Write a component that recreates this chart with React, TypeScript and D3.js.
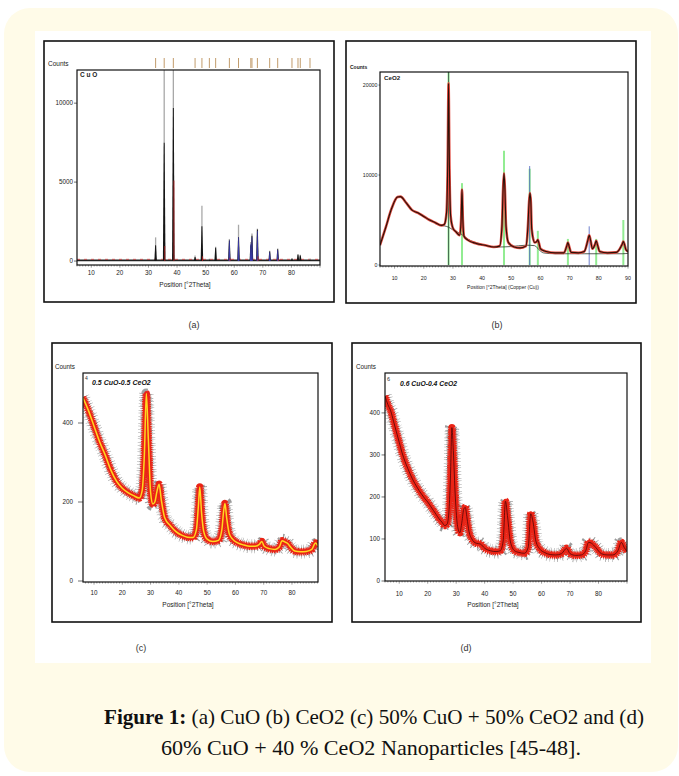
import React from "react";
import * as d3 from "d3";

type Pt = [number, number];

// ---- (a) CuO ----
const cuoPeakPos = [32.5, 35.5, 38.7, 46.3, 48.7, 51.3, 53.5, 58.3, 61.5, 65.8, 66.2, 68.1, 72.4, 75.2, 80.2, 82.3, 83.1, 86.5];
const cuoObserved = [1500, 12100, 12100, 350, 3500, 150, 900, 1400, 2300, 1200, 1750, 2050, 650, 800, 200, 450, 400, 150];
const cuoFitted = [1000, 7500, 9700, 250, 2200, 100, 850, 1300, 1500, 1000, 1600, 2000, 600, 750, 150, 400, 350, 100];
const cuoBlue = [0, 0, 0, 0, 0, 0, 0, 1300, 1500, 1100, 1500, 1900, 550, 700, 0, 0, 0, 0];
const cuoRed = [0, 950, 5100, 0, 300, 0, 0, 200, 0, 0, 0, 300, 0, 150, 0, 0, 0, 0];

// ---- (b) CeO2 ----
const ceo2Profile: Pt[] = [
  [5, 2200], [7, 4200], [9, 6300], [11, 7550], [12, 7600], [14, 6900], [16, 6100], [18, 5800],
  [20, 5400], [22, 5000], [24, 4700], [26, 4400], [27, 4500], [27.8, 5800], [28.2, 11000],
  [28.5, 20200], [28.8, 11000], [29.2, 5500], [30, 4100], [31, 3700], [32.3, 3300], [32.8, 5000],
  [33.1, 8400], [33.4, 5000], [33.8, 3200], [35, 2800], [38, 2400], [41, 2200], [44, 2000],
  [46, 2100], [46.8, 4300], [47.2, 8500], [47.5, 10200], [47.8, 8500], [48.2, 4300], [49, 2500],
  [51, 2000], [53, 1900], [55, 2100], [55.7, 4300], [56.1, 7000], [56.4, 8000], [56.7, 7000],
  [57, 4000], [58, 2500], [58.7, 2600], [59.1, 2800], [59.5, 2400], [60, 1800], [62, 1500],
  [65, 1350], [68, 1350], [69, 2100], [69.4, 2500], [69.8, 2100], [70.5, 1400], [73, 1350],
  [75, 1500], [76.2, 2700], [76.7, 3300], [77.2, 2700], [77.8, 1800], [78.7, 2300], [79.1, 2700],
  [79.5, 2300], [80.3, 1500], [83, 1350], [86, 1400], [88, 2300], [88.4, 2600], [88.8, 2300],
  [89.3, 1700], [90, 1500],
];
const ceo2Background: Pt[] = [
  [26, 4400], [28.5, 4200], [30, 3900], [33, 3400], [35, 2900], [40, 2300], [45, 2000], [50, 2050],
  [55, 2200], [58, 2150], [59.5, 1700], [61, 1350], [65, 1250], [75, 1250], [85, 1250], [88, 1250], [90, 1300],
];
const ceo2RefPos = [28.5, 33.1, 47.5, 56.3, 59.1, 69.4, 79.1, 88.4];
const ceo2RefH = [21450, 9100, 12700, 10700, 3800, 2900, 2900, 5000];
const ceo2BluePos = [28.5, 56.3, 76.7];
const ceo2BlueH = [21450, 11000, 4300];

// ---- (c) 0.5 CuO-0.5 CeO2 ----
const mix55Profile: Pt[] = [
  [6, 465], [8, 432], [10, 392], [12, 352], [14, 318], [16, 280], [18, 252], [20, 235], [22, 224],
  [24, 216], [26, 210], [27, 228], [27.8, 320], [28.5, 475], [29.2, 360], [30, 225], [30.8, 195],
  [31.5, 200], [32.2, 225], [33, 245], [33.8, 205], [35, 160], [37, 140], [39, 125], [41, 116],
  [43, 111], [45, 110], [46.2, 130], [46.9, 190], [47.4, 238], [48, 175], [48.8, 125], [50, 106],
  [52, 100], [54, 103], [55.2, 130], [55.8, 175], [56.3, 196], [56.9, 160], [57.8, 120], [59, 106],
  [61, 96], [63, 91], [65, 88], [67, 88], [68.5, 93], [69.3, 100], [70.2, 88], [72, 82], [74, 80],
  [75.5, 86], [76.5, 102], [77.5, 99], [78.5, 95], [79.5, 86], [81, 76], [83, 74], [85, 75],
  [87, 80], [88.3, 96], [89.2, 88],
];

// ---- (d) 0.6 CuO-0.4 CeO2 ----
const mix64Profile: Pt[] = [
  [5, 440], [6, 420], [7, 405], [8, 380], [9, 355], [10, 330], [11, 305], [12, 285], [13, 268],
  [14, 252], [15, 238], [16, 226], [17, 215], [18, 205], [19, 196], [20, 188], [21, 178], [22, 168],
  [23, 158], [24, 148], [25, 140], [26, 132], [26.8, 135], [27.5, 170], [28, 250], [28.5, 365],
  [29, 310], [29.7, 200], [30.5, 130], [31.3, 115], [32, 140], [32.7, 172], [33.2, 175], [33.8, 150],
  [34.5, 118], [35.5, 100], [37, 90], [38.5, 88], [40, 78], [42, 72], [44, 70], [45.5, 72],
  [46.5, 95], [47.3, 190], [48.1, 150], [49, 95], [50.5, 72], [52, 68], [54, 66], [55.3, 80],
  [56.2, 160], [57, 140], [58, 95], [59.5, 75], [61, 68], [63, 63], [65, 62], [67, 65], [68.8, 78],
  [70, 65], [72, 61], [74, 62], [75.5, 72], [76.5, 92], [77.5, 90], [79, 80], [81, 65], [83, 62],
  [85, 62], [86.8, 72], [88, 92], [89, 80], [90, 70],
];

const xTicks = [10, 20, 30, 40, 50, 60, 70, 80];
const xTicksB = [10, 20, 30, 40, 50, 60, 70, 80, 90];
const yTicksA = [0, 5000, 10000];
const yTicksB = [0, 10000, 20000];
const yTicksC = [0, 200, 400];
const yTicksD = [0, 100, 200, 300, 400];

const SANS = "Liberation Sans, Arial, sans-serif";

type AxesProps = {
  x: d3.ScaleLinear<number, number>;
  y: d3.ScaleLinear<number, number>;
  xt: number[];
  yt: number[];
  fs: number;
  labY: number;
  tick: number;
  gap: number;
};

function Axes({ x, y, xt, yt, fs, labY, tick, gap }: AxesProps) {
  const [x0, x1] = x.range();
  const [yb, ytop] = y.range();
  const [d0, d1] = x.domain();
  const minors = d3.range(Math.ceil(d0), Math.floor(d1) + 1);
  return (
    <g fontFamily={SANS} fontSize={fs} fill="#222">
      {minors.map((t) => (
        <line key={"m" + t} x1={x(t)} x2={x(t)} y1={yb} y2={yb + (t % 10 === 0 ? 2.6 : 1.5)} stroke="#333" strokeWidth={0.5} />
      ))}
      {xt.map((t) => (
        <text key={"x" + t} x={x(t)} y={yb + labY} textAnchor="middle">{t}</text>
      ))}
      {yt.map((t) => (
        <g key={"y" + t}>
          <line x1={x0 - tick} x2={x0} y1={y(t)} y2={y(t)} stroke="#333" strokeWidth={0.7} />
          <text x={x0 - gap} y={y(t)} dy="0.35em" textAnchor="end">{t}</text>
        </g>
      ))}
      <rect x={x0} y={ytop} width={x1 - x0} height={yb - ytop} fill="none" stroke="#111" strokeWidth={1.2} />
    </g>
  );
}

function PanelA() {
  const x = d3.scaleLinear().domain([5, 90]).range([77, 320]);
  const y = d3.scaleLinear().domain([-250, 12100]).range([265, 70]);
  const tri = (p: number, h: number, w: number) =>
    d3.line()([[x(p - w), y(0)], [x(p - w * 0.35), y(h)], [x(p + w * 0.35), y(h)], [x(p + w), y(0)]]) || "";
  return (
    <g>
      <defs>
        <clipPath id="clipA"><rect x={77} y={70} width={243} height={195} /></clipPath>
      </defs>
      {cuoPeakPos.map((p, i) => (
        <line key={"r" + i} x1={x(p)} x2={x(p)} y1={58} y2={68} stroke="#c29c6c" strokeWidth={1} />
      ))}
      <g clipPath="url(#clipA)">
        <line x1={x(5)} x2={x(90)} y1={y(40)} y2={y(40)} stroke="#222" strokeWidth={1.6} />
        <line x1={x(5)} x2={x(90)} y1={y(110)} y2={y(110)} stroke="#d03030" strokeWidth={0.7} strokeDasharray="3 4" />
        {cuoPeakPos.map((p, i) => (
          <line key={"o" + i} x1={x(p)} x2={x(p)} y1={y(0)} y2={y(cuoObserved[i])} stroke="#a8a8a8" strokeWidth={1.3} />
        ))}
        {cuoPeakPos.map((p, i) => (
          <path key={"f" + i} d={tri(p, cuoFitted[i], 0.45)} fill="#151515" />
        ))}
        {cuoPeakPos.map((p, i) =>
          cuoBlue[i] > 0 ? <path key={"b" + i} d={tri(p, cuoBlue[i], 0.32)} fill="#3a3aa8" /> : null
        )}
        {cuoPeakPos.map((p, i) =>
          cuoRed[i] > 0 ? <line key={"d" + i} x1={x(p) + 0.6} x2={x(p) + 0.6} y1={y(0)} y2={y(cuoRed[i])} stroke="#c02020" strokeWidth={0.8} /> : null
        )}
      </g>
      <Axes x={x} y={y} xt={xTicks} yt={yTicksA} fs={6.3} labY={10} tick={3} gap={4} />
      <text x={48} y={66} fontFamily={SANS} fontSize={6.5} fill="#222">Counts</text>
      <text x={80} y={77} fontFamily={SANS} fontSize={6.5} fontWeight="bold" fill="#222">C u O</text>
      <text x={185} y={287} fontFamily={SANS} fontSize={6.5} textAnchor="middle" fill="#222">Position [°2Theta]</text>
    </g>
  );
}

function PanelB() {
  const x = d3.scaleLinear().domain([5, 90]).range([380, 628]);
  const y = d3.scaleLinear().domain([-110, 21450]).range([266, 72]);
  const line = d3.line<Pt>().x((d) => x(d[0])).y((d) => y(d[1])).curve(d3.curveMonotoneX);
  return (
    <g>
      <defs>
        <clipPath id="clipB"><rect x={380} y={72} width={248} height={194} /></clipPath>
      </defs>
      <g clipPath="url(#clipB)">
        {ceo2RefPos.map((p, i) => (
          <line key={"g" + i} x1={x(p)} x2={x(p)} y1={y(0)} y2={y(ceo2RefH[i])} stroke="#92ec92" strokeWidth={2} />
        ))}
        {ceo2BluePos.map((p, i) => (
          <line key={"bl" + i} x1={x(p)} x2={x(p)} y1={y(0)} y2={y(ceo2BlueH[i])} stroke={i === 0 ? "#3b5a45" : "#4a5fc0"} strokeWidth={i === 0 ? 0.9 : 0.8} />
        ))}
        <path d={line(ceo2Background) || ""} fill="none" stroke="#2c3a2c" strokeWidth={0.8} />
        <path d={line(ceo2Profile) || ""} fill="none" stroke="#e04a40" strokeWidth={2.6} />
        <path d={line(ceo2Profile) || ""} fill="none" stroke="#2a1208" strokeWidth={1.1} />
      </g>
      <Axes x={x} y={y} xt={xTicksB} yt={yTicksB} fs={5.3} labY={14} tick={1.5} gap={2.5} />
      <text x={350} y={69} fontFamily={SANS} fontSize={5} fontWeight="bold" fill="#222">Counts</text>
      <text x={384} y={80} fontFamily={SANS} fontSize={6.2} fontWeight="bold" fill="#222">CeO2</text>
      <text x={503} y={289} fontFamily={SANS} fontSize={5} textAnchor="middle" fill="#222">Position [°2Theta] (Copper (Cu))</text>
    </g>
  );
}

type MixProps = {
  id: string;
  data: Pt[];
  x: d3.ScaleLinear<number, number>;
  y: d3.ScaleLinear<number, number>;
  core: string;
  coreW: number;
};

function NoisyBand({ id, data, x, y, core, coreW }: MixProps) {
  const line = d3.line<Pt>().x((d) => x(d[0])).y((d) => y(d[1])).curve(d3.curveMonotoneX);
  const [x0, x1] = x.range();
  const [yb, yt] = y.range();
  const d = line(data) || "";
  return (
    <g>
      <defs>
        <clipPath id={id}><rect x={x0} y={yt} width={x1 - x0} height={yb - yt} /></clipPath>
      </defs>
      <g clipPath={`url(#${id})`} fill="none">
        <path d={d} stroke="#3a3a3a" strokeWidth={14} strokeDasharray="0.5 2.1 0.5 3.3" opacity={0.5} />
        <path d={d} stroke="#444" strokeWidth={10} strokeDasharray="0.6 1.6" opacity={0.5} />
        <path d={d} stroke="#ea2416" strokeWidth={7.5} strokeDasharray="1.2 0.6" />
        <path d={d} stroke="#ea2416" strokeWidth={5} />
        <path d={d} stroke={core} strokeWidth={coreW} />
      </g>
    </g>
  );
}

function PanelC() {
  const x = d3.scaleLinear().domain([6.1, 89.2]).range([83, 318]);
  const y = d3.scaleLinear().domain([-2.5, 526.6]).range([582, 373]);
  return (
    <g>
      <NoisyBand id="clipC" data={mix55Profile} x={x} y={y} core="#ffd820" coreW={1.5} />
      <Axes x={x} y={y} xt={xTicks} yt={yTicksC} fs={6.3} labY={13} tick={5} gap={10} />
      <text x={55} y={369} fontFamily={SANS} fontSize={6.3} fill="#222">Counts</text>
      <text x={85} y={380} fontFamily={SANS} fontSize={5} fill="#333">4</text>
      <text x={92} y={385} fontFamily={SANS} fontSize={7} fontWeight="bold" fontStyle="italic" fill="#111">0.5 CuO-0.5 CeO2</text>
      <text x={188} y={607} fontFamily={SANS} fontSize={6.5} textAnchor="middle" fill="#222">Position [°2Theta]</text>
    </g>
  );
}

function PanelD() {
  const x = d3.scaleLinear().domain([5, 90]).range([385, 627]);
  const y = d3.scaleLinear().domain([0, 495]).range([581, 373]);
  return (
    <g>
      <NoisyBand id="clipD" data={mix64Profile} x={x} y={y} core="#600808" coreW={0.9} />
      <Axes x={x} y={y} xt={xTicks} yt={yTicksD} fs={6.3} labY={15} tick={3.5} gap={5} />
      <text x={356} y={369} fontFamily={SANS} fontSize={6.3} fill="#222">Counts</text>
      <text x={387} y={381} fontFamily={SANS} fontSize={5.5} fill="#333">6</text>
      <text x={400} y={386} fontFamily={SANS} fontSize={6.8} fontWeight="bold" fontStyle="italic" fill="#111">0.6 CuO-0.4 CeO2</text>
      <text x={493} y={607} fontFamily={SANS} fontSize={6.5} textAnchor="middle" fill="#222">Position [°2Theta]</text>
    </g>
  );
}

export default function App() {
  const frames = [
    [44, 41, 290, 261],
    [346, 41, 290, 262],
    [52, 343, 280, 279],
    [352, 343, 289, 279],
  ];
  const subLabels: [string, number, number][] = [
    ["(a)", 194, 328],
    ["(b)", 497, 328],
    ["(c)", 141, 651],
    ["(d)", 466, 651],
  ];
  return (
    <svg width={679} height={776} style={{ position: "absolute", left: 0, top: 0 }}>
      <rect x={4} y={8} width={674} height={764} rx={26} fill="#fffbe8" />
      <rect x={35} y={31} width={616} height={632} fill="#ffffff" />
      {frames.map((f, i) => (
        <rect key={i} x={f[0]} y={f[1]} width={f[2]} height={f[3]} fill="#fff" stroke="#111" strokeWidth={1.6} />
      ))}
      <PanelA />
      <PanelB />
      <PanelC />
      <PanelD />
      {subLabels.map(([t, lx, ly]) => (
        <text key={t} x={lx} y={ly} fontFamily={SANS} fontSize={9} fill="#333" textAnchor="middle">{t}</text>
      ))}
      <g fontFamily="Liberation Serif, serif" fontSize={22} fill="#111" textAnchor="middle">
        <text x={374} y={724} textLength={540} lengthAdjust="spacingAndGlyphs">
          <tspan fontWeight="bold">Figure 1:</tspan> (a) CuO (b) CeO2 (c) 50% CuO + 50% CeO2 and (d)
        </text>
        <text x={371} y={755} textLength={420} lengthAdjust="spacingAndGlyphs">60% CuO + 40 % CeO2 Nanoparticles [45-48].</text>
      </g>
    </svg>
  );
}
